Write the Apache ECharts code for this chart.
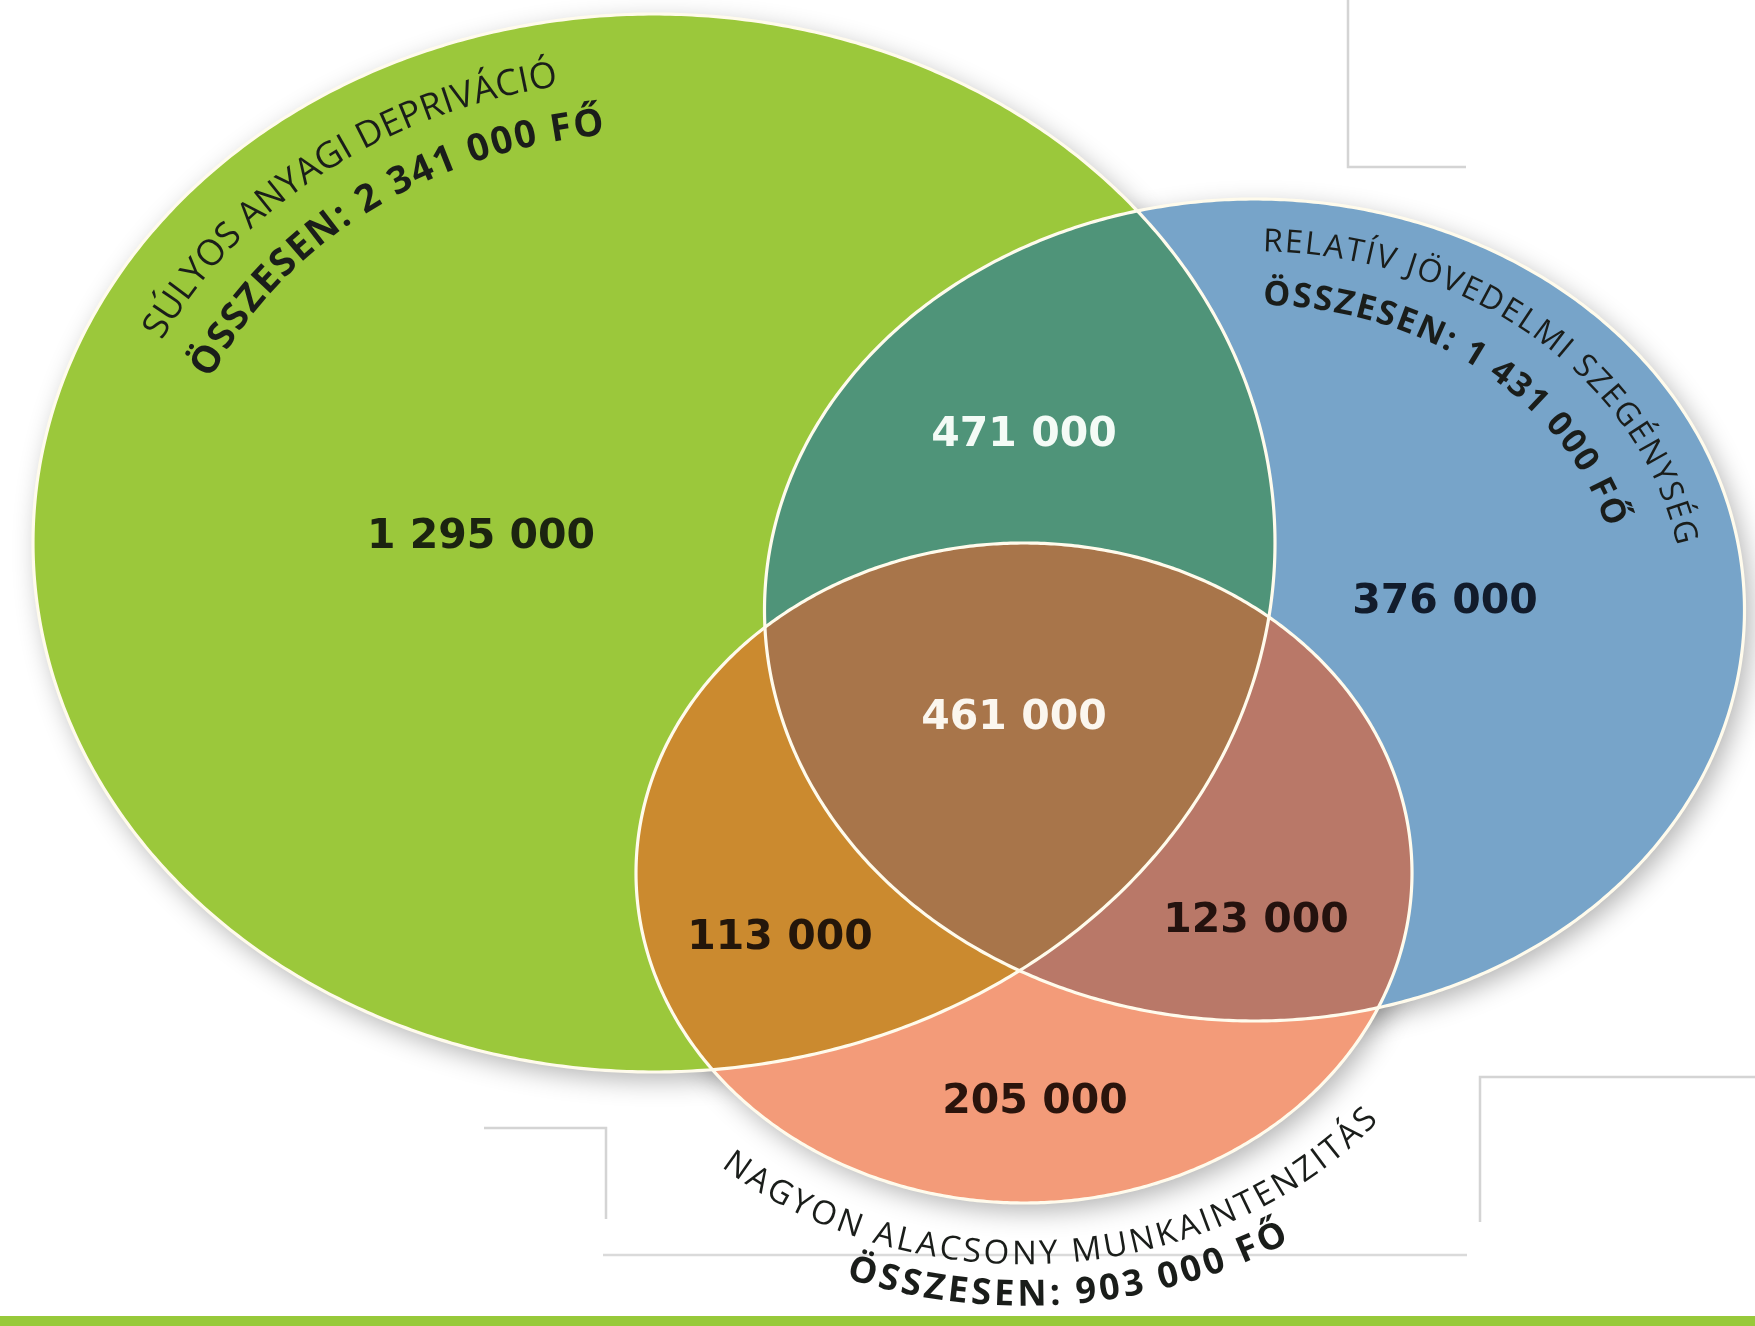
<!DOCTYPE html>
<html><head><meta charset="utf-8">
<script src="https://cdn.jsdelivr.net/npm/echarts@6/dist/echarts.min.js"></script>
<style>html,body{margin:0;padding:0;background:#fff}#c{width:1755px;height:1326px}</style>
</head><body><div id="c"></div>
<script>
// ---------- data ----------
const setNames = ['SÚLYOS ANYAGI DEPRIVÁCIÓ', 'RELATÍV JÖVEDELMI SZEGÉNYSÉG', 'NAGYON ALACSONY MUNKAINTENZITÁS'];
const setTotals = [2341000, 1431000, 903000];
const totalPrefix = 'ÖSSZESEN: ';
const totalUnit = ' FŐ';
const regionKeys = ['A', 'B', 'C', 'AB', 'AC', 'BC', 'ABC'];
const regionValues = [1295000, 376000, 205000, 471000, 113000, 123000, 461000];

// ---------- layout (chart units = hidden value axes) ----------
const ellipses = [
  {cx: 654, cy: 543, rx: 621, ry: 529},
  {cx: 1254.5, cy: 610, rx: 490, ry: 411},
  {cx: 1024, cy: 873, rx: 388, ry: 330}
];
const regionColors = ['#9bc83b', '#77a4c9', '#f39b79', '#4f9479', '#cb8a2f', '#b97868', '#a8754a'];
const labelAnchors = [[481, 537], [1445, 602], [1035, 1102], [1024, 435], [780, 938], [1256, 921], [1014, 718]];
const labelColors = ['#1b2410', '#121c2c', '#2a140c', '#f4fbf6', '#24160a', '#24120e', '#fbf6ee'];
const nameArcs = [{r: 0.897, t0: -152.9, t1: -101.5}, {r: 0.895, t0: -87.6, t1: -12.2}, {r: 1.157, t0: 129.8, t1: 40.4}];
const totalArcs = [{r: 0.796, t0: -154.3, t1: -97.6}, {r: 0.766, t0: -86.6, t1: -18.2}, {r: 1.28, t0: 109, t1: 60}];
const nameFonts = ['36px "Open Sans"', '32px "Open Sans"', '33px "Open Sans"'];
const totalFonts = ['bold 38px "Open Sans"', 'bold 34px "Open Sans"', 'bold 36px "Open Sans"'];
const textColor = '#1a1d1a';
const numberFont = 'bold 41px "DejaVu Sans"';

// ---------- helpers ----------
function fmt(v) { return String(v).replace(/\B(?=(\d{3})+(?!\d))/g, ' '); }
function pixEll(api, e) {
  const c = api.coord([e.cx, e.cy]);
  const s = api.size([e.rx, e.ry]);
  return {cx: c[0], cy: c[1], rx: Math.abs(s[0]), ry: Math.abs(s[1])};
}
function ellPts(e, n) {
  const pts = [];
  for (let k = 0; k < n; k++) {
    const t = 2 * Math.PI * k / n;
    pts.push([e.cx + e.rx * Math.cos(t), e.cy + e.ry * Math.sin(t)]);
  }
  return pts;
}
function inside(p, e) {
  const dx = (p[0] - e.cx) / e.rx, dy = (p[1] - e.cy) / e.ry;
  return dx * dx + dy * dy <= 1 + 1e-9;
}
function regionPolygon(idxs, E) {
  if (idxs.length === 1) return ellPts(E[idxs[0]], 720);
  const pts = [];
  idxs.forEach(i => {
    ellPts(E[i], 2880).forEach(p => {
      if (idxs.every(j => j === i || inside(p, E[j]))) pts.push(p);
    });
  });
  let mx = 0, my = 0;
  pts.forEach(p => { mx += p[0]; my += p[1]; });
  mx /= pts.length; my /= pts.length;
  pts.sort((a, b) => Math.atan2(a[1] - my, a[0] - mx) - Math.atan2(b[1] - my, b[0] - mx));
  return pts;
}
const mctx = document.createElement('canvas').getContext('2d');
function measure(ch, font) { mctx.font = font; return mctx.measureText(ch).width; }
function arcText(E, arc, str, font, color) {
  const rx = E.rx * arc.r, ry = E.ry * arc.r;
  const t0 = arc.t0 * Math.PI / 180, t1 = arc.t1 * Math.PI / 180;
  const sgn = t1 > t0 ? 1 : -1;
  const N = 3000;
  const ts = [], ls = [0];
  for (let k = 0; k <= N; k++) ts.push(t0 + (t1 - t0) * k / N);
  for (let k = 1; k <= N; k++) {
    const ax = rx * Math.cos(ts[k - 1]), ay = ry * Math.sin(ts[k - 1]);
    const bx = rx * Math.cos(ts[k]), by = ry * Math.sin(ts[k]);
    ls.push(ls[k - 1] + Math.hypot(bx - ax, by - ay));
  }
  const L = ls[N];
  const chars = Array.from(str);
  const n = chars.length;
  const w = chars.map(c => measure(c, font));
  let D0 = 0;
  for (let i = 0; i < n - 1; i++) D0 += (w[i] + w[i + 1]) / 2;
  const sp = (L - D0) / (n - 1);
  const out = [];
  let d = 0;
  for (let i = 0; i < n; i++) {
    if (i > 0) d += (w[i - 1] + w[i]) / 2 + sp;
    let lo = 0, hi = N;
    while (hi - lo > 1) { const m = (lo + hi) >> 1; if (ls[m] < d) lo = m; else hi = m; }
    const f = ls[hi] > ls[lo] ? (d - ls[lo]) / (ls[hi] - ls[lo]) : 0;
    const t = ts[lo] + (ts[hi] - ts[lo]) * Math.min(1, Math.max(0, f));
    if (chars[i] === ' ') continue;
    const x = E.cx + rx * Math.cos(t), y = E.cy + ry * Math.sin(t);
    const dx = sgn * (-rx * Math.sin(t)), dy = sgn * (ry * Math.cos(t));
    out.push({
      type: 'text', x: x, y: y, rotation: -Math.atan2(dy, dx),
      style: {text: chars[i], font: font, fill: color, align: 'center', verticalAlign: 'middle'}
    });
  }
  return out;
}
const letterIdx = {A: 0, B: 1, C: 2};

// ---------- chart ----------
const chart = echarts.init(document.getElementById('c'), null, {renderer: 'canvas'});
chart.setOption({
  animation: false,
  backgroundColor: '#ffffff',
  grid: {left: 0, right: 0, top: 0, bottom: 0},
  xAxis: {type: 'value', min: 0, max: 1755, show: false},
  yAxis: {type: 'value', min: 0, max: 1326, inverse: true, show: false},
  graphic: [
    {type: 'polyline', z: 0, shape: {points: [[1348, 0], [1348, 167], [1466, 167]]}, style: {stroke: '#d4d4d4', lineWidth: 2.5, fill: null}},
    {type: 'polyline', z: 0, shape: {points: [[484, 1128], [606, 1128], [606, 1219]]}, style: {stroke: '#d4d4d4', lineWidth: 2.5, fill: null}},
    {type: 'line', z: 0, shape: {x1: 603, y1: 1255, x2: 1467, y2: 1255}, style: {stroke: '#dadada', lineWidth: 2.5}},
    {type: 'polyline', z: 0, shape: {points: [[1755, 1077], [1480, 1077], [1480, 1222]]}, style: {stroke: '#d4d4d4', lineWidth: 2.5, fill: null}},
    {type: 'rect', z: 10, shape: {x: 0, y: 1316, width: 1755, height: 10}, style: {fill: '#97c93a'}}
  ],
  series: [
    {
      type: 'custom', name: 'shadow', z: 1, silent: true,
      data: setTotals.map((v, i) => [i, 0]),
      renderItem: function (params, api) {
        const E = pixEll(api, ellipses[params.dataIndex]);
        return {type: 'polygon', shape: {points: ellPts(E, 720)},
          style: {fill: '#ffffff', shadowBlur: 26, shadowColor: 'rgba(0,0,0,0.30)', shadowOffsetX: 6, shadowOffsetY: 8}};
      }
    },
    {
      type: 'custom', name: 'regions', z: 2, silent: true,
      data: regionValues.map((v, i) => [i, 0, v]),
      renderItem: function (params, api) {
        const i = params.dataIndex;
        const E = ellipses.map(e => pixEll(api, e));
        const idxs = Array.from(regionKeys[i]).map(c => letterIdx[c]);
        const p = api.coord(labelAnchors[i]);
        return {type: 'group', children: [
          {type: 'polygon', shape: {points: regionPolygon(idxs, E)}, style: {fill: regionColors[i]}},
          {type: 'text', x: p[0], y: p[1], z2: 5,
            style: {text: fmt(api.value(2)), font: numberFont, fill: labelColors[i], align: 'center', verticalAlign: 'middle'}}
        ]};
      }
    },
    {
      type: 'custom', name: 'outlines', z: 3, silent: true,
      data: setTotals.map((v, i) => [i, 0]),
      renderItem: function (params, api) {
        const E = pixEll(api, ellipses[params.dataIndex]);
        return {type: 'polygon', shape: {points: ellPts(E, 720)}, style: {fill: null, stroke: '#fffbec', lineWidth: 3.2}};
      }
    },
    {
      type: 'custom', name: 'setLabels', z: 4, silent: true,
      data: setTotals.map((v, i) => [i, 0, v]),
      renderItem: function (params, api) {
        const i = params.dataIndex;
        const E = pixEll(api, ellipses[i]);
        const children = arcText(E, nameArcs[i], setNames[i], nameFonts[i], textColor)
          .concat(arcText(E, totalArcs[i], totalPrefix + fmt(api.value(2)) + totalUnit, totalFonts[i], textColor));
        return {type: 'group', children: children};
      }
    }
  ]
});
</script>
</body></html>
